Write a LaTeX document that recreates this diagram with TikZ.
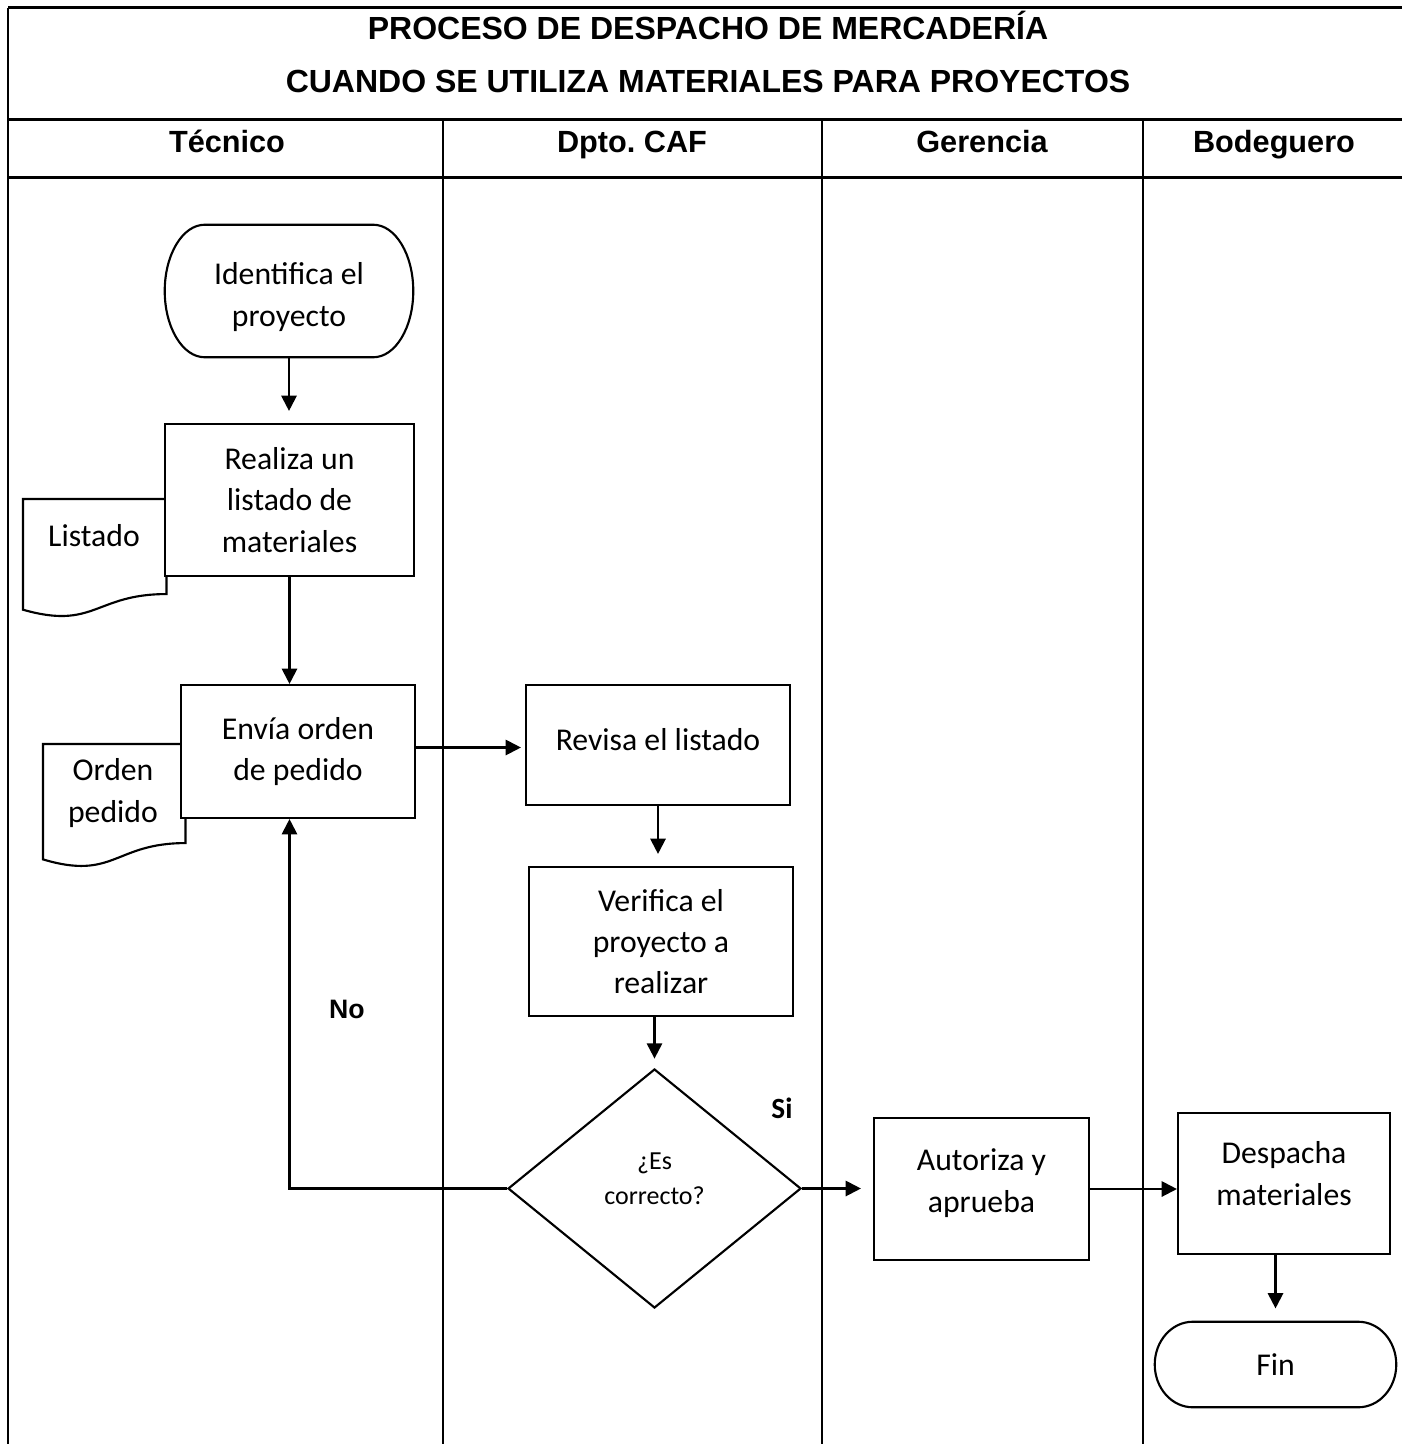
\documentclass[tikz,border=0pt]{standalone}
\usepackage{fontspec}
\setmainfont{Carlito}
\newfontfamily\headfont{Liberation Sans}
\usetikzlibrary{arrows.meta,calc,shapes.geometric}
\newdimen\px \px=0.75pt
% terminator outline drawn round an invisible node: #1 node name, #2 end radius (px)
\newcommand\termframe[2]{%
  \draw[ln] ($(#1.north west)+(#2,0)$) -- ($(#1.north east)+(-#2,0)$)
    .. controls ($(#1.north east)+(-0.448*#2,0)$) and ($(#1.east)!0.552!(#1.north east)$) .. (#1.east)
    .. controls ($(#1.east)!0.552!(#1.south east)$) and ($(#1.south east)+(-0.448*#2,0)$) .. ($(#1.south east)+(-#2,0)$)
    -- ($(#1.south west)+(#2,0)$)
    .. controls ($(#1.south west)+(0.448*#2,0)$) and ($(#1.west)!0.552!(#1.south west)$) .. (#1.west)
    .. controls ($(#1.west)!0.552!(#1.north west)$) and ($(#1.north west)+(0.448*#2,0)$) .. cycle;}
% document outline drawn round an invisible node
\newcommand\docframe[1]{%
  \draw[ln] (#1.north west) -- (#1.north east) -- ($(#1.north east)!0.802!(#1.south east)$)
    .. controls ($(#1.north)!0.802!(#1.south)$) and ($(#1.north)!1.107!(#1.south)$) .. ($(#1.north west)!0.934!(#1.south west)$)
    -- cycle;}
\begin{document}
\begin{tikzpicture}[x=0.75pt,y=0.75pt,
  ln/.style={line width=1.6pt},
  rulel/.style={line width=2.25pt},
  lanel/.style={line width=1.5pt},
  txtfont/.style={font=\fontsize{23.8}{31}\selectfont},
  box/.style={draw, line width=1.6pt, fill=white, align=center, inner sep=0pt, txtfont},
  lbl/.style={align=center, inner sep=0pt, txtfont},
  term/.style={draw=none, align=center, inner sep=0pt, txtfont},
  docf/.style={draw=none, inner sep=0pt, anchor=north west},
  doctxt/.style={align=center, inner sep=0pt, txtfont},
  dec/.style={diamond, draw, line width=1.6pt, fill=white, align=center, inner sep=0pt},
  declbl/.style={align=center, inner sep=0pt, font=\fontsize{19.5}{26.5}\selectfont},
  hdr/.style={font=\headfont\bfseries\fontsize{23}{28}\selectfont, anchor=base, inner sep=0pt},
  ttl/.style={font=\headfont\bfseries\fontsize{24}{28}\selectfont, anchor=base, inner sep=0pt},
  flow/.style={line width=1.6pt, -{Triangle[length=11.5pt,width=11.5pt]}}]
\useasboundingbox (0,0) rectangle (1402,-1444);

% frame
\draw[rulel] (8,-8) -- (1402,-8);
\draw[rulel] (8,-120) -- (1402,-120);
\draw[rulel] (8,-178) -- (1402,-178);
\draw[lanel] (8,-8) -- (8,-1444);
\draw[lanel] (443,-120) -- (443,-1444);
\draw[lanel] (822,-120) -- (822,-1444);
\draw[lanel] (1143,-120) -- (1143,-1444);

% titles and lane headers
\node[ttl] (title1) at (708,-40) {PROCESO DE DESPACHO DE MERCADERÍA};
\node[ttl] (title2) at (708,-93) {CUANDO SE UTILIZA MATERIALES PARA PROYECTOS};
\node[hdr] (h1) at (227,-153) {Técnico};
\node[hdr] (h2) at (632,-153) {Dpto.\ CAF};
\node[hdr] (h3) at (982,-153) {Gerencia};
\node[hdr] (h4) at (1274,-153) {Bodeguero};

% documents (drawn first, boxes cover them)
\node[docf, minimum width=143\px, minimum height=118\px] (listado) at (23,-499) {};
\docframe{listado}
\node[doctxt] (listadotxt) at (94,-536) {Listado};
\node[docf, minimum width=142\px, minimum height=123\px] (orden) at (43,-744) {};
\docframe{orden}
\node[doctxt] (ordentxt) at (113,-793) {Orden\\pedido};

% process nodes
\node[term, minimum width=248\px, minimum height=132\px,
  label={[lbl, name=identtxt, yshift=-4.5pt]center:{Identifica el\\proyecto}}] (ident) at (289,-291) {};
\termframe{ident}{40}
\node[box, minimum width=249\px, minimum height=152\px] (realiza) at (289.5,-500) {Realiza un\\listado de\\materiales};
\node[box, minimum width=234\px, minimum height=133\px] (envia) at (298,-751.5) {Envía orden\\de pedido};
\node[box, minimum width=264\px, minimum height=120\px,
  label={[lbl, name=revisatxt, yshift=3.75pt]center:{Revisa el listado}}] (revisa) at (658,-745) {};
\node[box, minimum width=264\px, minimum height=149\px] (verifica) at (661,-941.5) {Verifica el\\proyecto a\\realizar};
\node[dec, minimum width=293\px, minimum height=239\px,
  label={[declbl, name=dectxt, yshift=7.5pt]center:{¿Es\\correcto?}}] (dec) at (654.5,-1188.5) {};
\node[box, minimum width=215\px, minimum height=142\px,
  label={[lbl, name=autorizatxt, yshift=4.5pt]center:{Autoriza y\\aprueba}}] (autoriza) at (981.5,-1189) {};
\node[box, minimum width=212\px, minimum height=141\px,
  label={[lbl, name=despachatxt, yshift=7.5pt]center:{Despacha\\materiales}}] (despacha) at (1284,-1183.5) {};
\node[term, minimum width=241\px, minimum height=85\px] (fin) at (1275.5,-1364.5) {Fin};
\termframe{fin}{38}

% labels
\node[font=\headfont\bfseries\fontsize{20}{24}\selectfont, inner sep=0pt] (nolbl) at (347,-1009) {No};
\node[font=\bfseries\fontsize{22}{26}\selectfont, inner sep=0pt] (silbl) at (782,-1108) {Si};

% connectors
\draw[flow, shorten >=9pt] (ident.south) -- (ident.south |- realiza.north);
\draw[flow] (realiza.south) -- (realiza.south |- envia.north);
\draw[flow, shorten >=3pt] ($(envia.east)+(0,4)$) -- ($(envia.east -| revisa.west)+(0,4)$);
\draw[flow, shorten >=9pt] (revisa.south) -- (revisa.south |- verifica.north);
\draw[flow, shorten >=7pt] (dec.north |- verifica.south) -- (dec.north);
\draw[flow, shorten >=9pt] (dec.east) -- (dec.east -| autoriza.west);
\draw[flow] (autoriza.east) -- (autoriza.east -| despacha.west);
\draw[flow, shorten >=10pt] (fin.north |- despacha.south) -- (fin.north);
\draw[flow] (dec.west) -| (realiza.south |- envia.south);
\end{tikzpicture}
\end{document}
